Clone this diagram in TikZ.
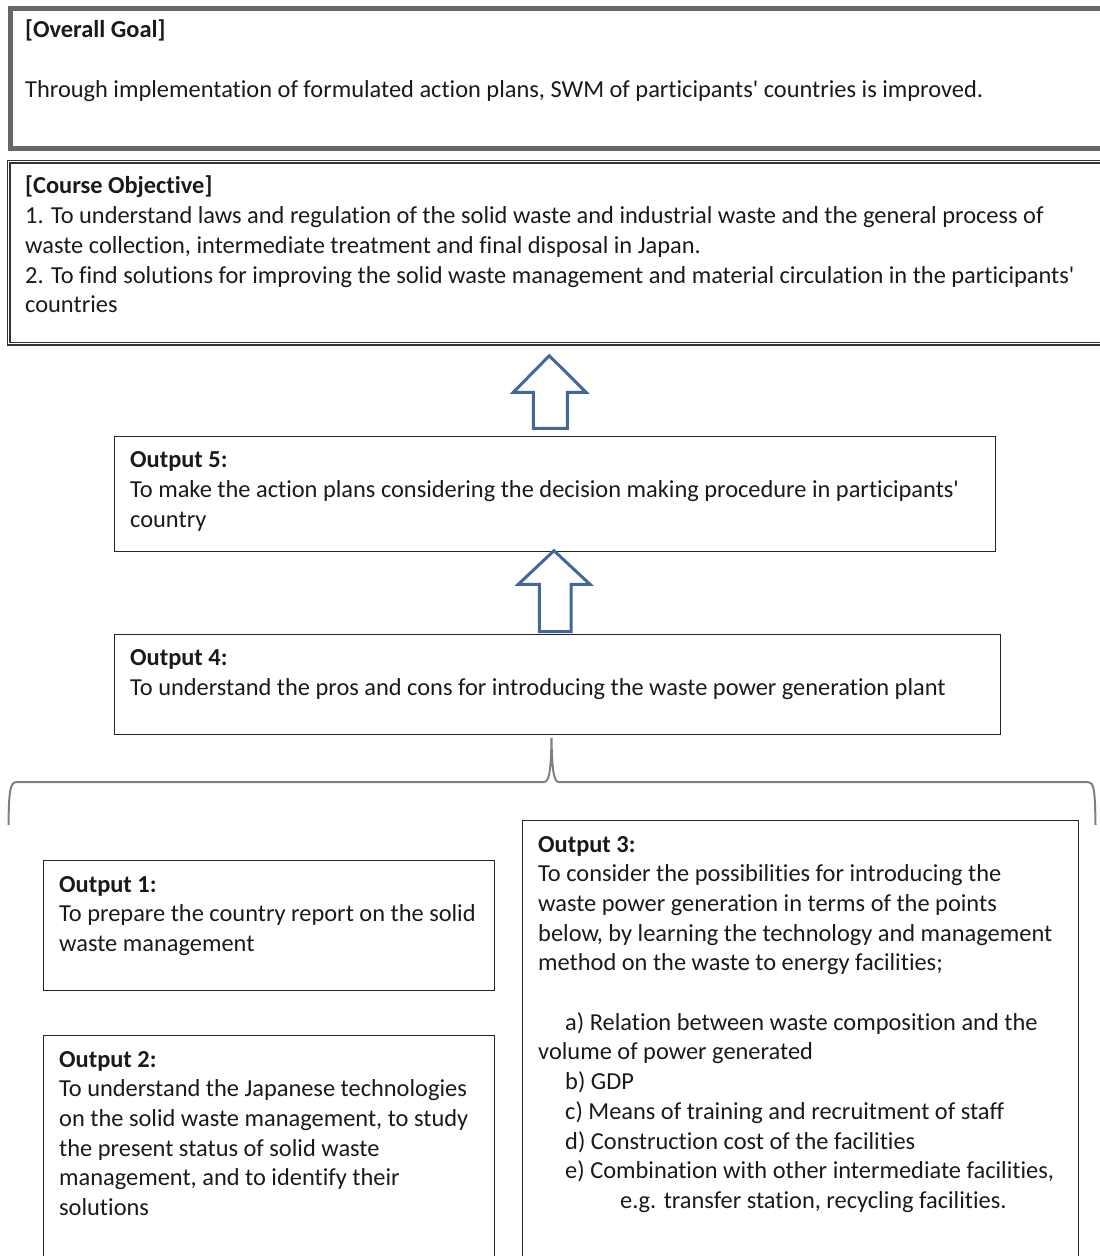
\documentclass[tikz,border=0pt]{standalone}
\usepackage{fontspec}
\setmainfont{Carlito}[Ligatures={TeXOff,NoCommon}]
\usetikzlibrary{calc}
\definecolor{arrowblue}{HTML}{41679B}
\definecolor{txtc}{HTML}{1A1A1A}
\begin{document}
\begin{tikzpicture}[x=1pt,y=-1pt,
  box/.style={draw=black!85,line width=1.4pt,anchor=north west,inner sep=0pt},
  txt/.style={anchor=north west,inner sep=0pt,align=left,text=txtc,
    font=\fontsize{24.4}{29.7}\selectfont},
  harrow/.style={draw=arrowblue,line width=3pt,fill=white,line join=miter},
  bracec/.style={draw=black!50,line width=2pt}]
\useasboundingbox (0,0) rectangle (1100,1256);
\clip (0,0) rectangle (1100,1256);
% Overall goal
\node[box,draw=black!60,line width=5pt,minimum width=1120pt,minimum height=139.5pt] (goal) at (7.5,6) {};
\node[txt] (goalt) at (25,17) {\strut\textbf{[Overall Goal]}\\[29.7pt]Through implementation of formulated action plans, SWM of participants' countries is improved.};
% Course objective
\node[box,draw=black!80,line width=1.2pt,double=white,double distance=1.6pt,minimum width=1120pt,minimum height=182pt] (obj) at (8,161) {};
\node[txt] (objt) at (25,173) {\strut\textbf{[Course Objective]}\\
1. To understand laws and regulation of the solid waste and industrial waste and the general process of\\
waste collection, intermediate treatment and final disposal in Japan.\\
2. To find solutions for improving the solid waste management and material circulation in the participants'\\
countries};
% Output 5
\node[box,minimum width=881pt,minimum height=115pt] (o5) at (114,436) {};
\node[txt] (o5t) at (130,447) {\strut\textbf{Output 5:}\\
To make the action plans considering the decision making procedure in participants'\\
country};
% Output 4
\node[box,minimum width=886pt,minimum height=100pt] (o4) at (114,634) {};
\node[txt] (o4t) at (130,645) {\strut\textbf{Output 4:}\\
To understand the pros and cons for introducing the waste power generation plant};
% Output 1
\node[box,minimum width=451pt,minimum height=130pt] (o1) at (43,860) {};
\node[txt] (o1t) at (59,871) {\strut\textbf{Output 1:}\\
To prepare the country report on the solid\\
waste management};
% Output 2
\node[box,minimum width=451pt,minimum height=300pt] (o2) at (43,1035) {};
\node[txt] (o2t) at (59,1046) {\strut\textbf{Output 2:}\\
To understand the Japanese technologies\\
on the solid waste management, to study\\
the present status of solid waste\\
management, and to identify their\\
solutions};
% Output 3
\node[box,minimum width=556pt,minimum height=500pt] (o3) at (522,820) {};
\node[txt] (o3t) at (538,831) {\strut\textbf{Output 3:}\\
To consider the possibilities for introducing the\\
waste power generation in terms of the points\\
below, by learning the technology and management\\
method on the waste to energy facilities;\\[29.7pt]
\hspace*{27pt}a) Relation between waste composition and the\\
volume of power generated\\
\hspace*{27pt}b) GDP\\
\hspace*{27pt}c) Means of training and recruitment of staff\\
\hspace*{27pt}d) Construction cost of the facilities\\
\hspace*{27pt}e) Combination with other intermediate facilities,\\
\hspace*{82pt}e.g. transfer station, recycling facilities.};
% Block arrows
\draw[harrow] (549.3,355.7) -- (586,392.3) -- (567.3,392.3) -- (567.3,428.3)
  -- (533.3,428.3) -- (533.3,392.3) -- (513.3,392.3) -- cycle;
\draw[harrow] (554,550.7) -- (590,584.3) -- (571,584.3) -- (571,631.7)
  -- (539.3,631.7) -- (539.3,584.3) -- (518.3,584.3) -- cycle;
% Brace
\coordinate (btip) at (551.5,738);
\draw[bracec] (8.5,825) .. controls (9,790) and (10,782) .. (17,782) -- (544,782)
  .. controls (549,782) and (551,772) .. (btip)
  .. controls (552,772) and (554,782) .. (559,782) -- (1088,782)
  .. controls (1094,782) and (1095,790) .. (1095.5,825);
\end{tikzpicture}
\end{document}
